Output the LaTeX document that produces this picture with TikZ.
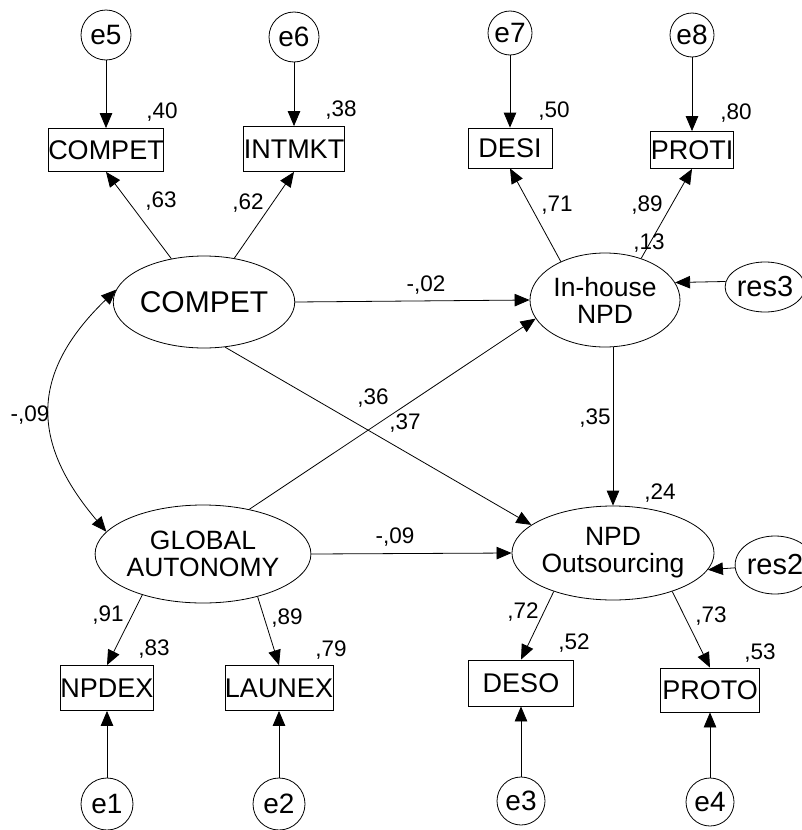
\documentclass[tikz,border=0pt]{standalone}
\usepackage{fontspec}
\setmainfont{Liberation Sans}
\usetikzlibrary{shapes.geometric, arrows.meta}
\tikzstyle{semCanvas} = [x = 1pt, y = -1pt]
\tikzstyle{pathStyle} = [-{Triangle[length=15pt, width=12.5pt]}, line width=.8pt]
\tikzstyle{covStyle} = [{Triangle[length=15pt, width=12.5pt]}-{Triangle[length=15pt, width=12.5pt]}, line width=.8pt]
\tikzstyle{latentStyle} = [draw, ellipse, line width=.8pt, inner sep=0pt, align=center, font=\fontsize{26.5}{27}\selectfont]
\tikzstyle{observedStyle} = [draw, rectangle, line width=.8pt, inner sep=0pt, font=\fontsize{27}{28}\selectfont]
\tikzstyle{errorStyle} = [draw, circle, line width=.8pt, inner sep=0pt, font=\fontsize{28}{29}\selectfont]
\tikzstyle{weightText} = [inner sep=0pt, font=\fontsize{22.5}{24}\selectfont]
\newcommand{\observed}[6]{\node [observedStyle, minimum width=#4pt, minimum height=#5pt] (#1) at (#2, #3) {#6};}
\newcommand{\errorTerm}[4]{\node [errorStyle, minimum size=#4pt] (#1) at (#2, #3) {#1};}
\newcommand{\weight}[4]{\node [weightText] (#1) at (#2, #3) {#4};}

\begin{document}
\begin{tikzpicture}[semCanvas]
  \useasboundingbox (0, 0) rectangle (802, 830);

  % latent variables
  \node [latentStyle, minimum width=154pt, minimum height=92pt, font=\fontsize{30}{31}\selectfont] (compet) at (204, 302) {COMPET};
  \node [latentStyle, minimum width=150pt, minimum height=94pt] (inHouse) at (605, 300) {In-house\\NPD};
  \node [latentStyle, minimum width=166pt, minimum height=98pt] (global) at (203, 554) {GLOBAL\\AUTONOMY};
  \node [latentStyle, minimum width=156pt, minimum height=94pt] (outsrc) at (613, 553) {NPD\\Outsourcing};
  \node [latentStyle, minimum width=64pt, minimum height=50pt, font=\fontsize{29}{30}\selectfont] (res3) at (765, 287) {res3};
  \node [latentStyle, minimum width=60pt, minimum height=58pt, font=\fontsize{29}{30}\selectfont] (res2) at (775, 565) {res2};

  % indicators
  \observed{competX}{106}{150}{113}{43}{COMPET}
  \observed{intmkt}{294}{149}{90}{45}{INTMKT}
  \observed{desi}{510}{148}{84}{40}{DESI}
  \observed{proti}{692}{150}{80}{37}{PROTI}
  \observed{npdex}{107}{688}{88}{45}{NPDEX}
  \observed{launex}{279}{688}{108}{45}{LAUNEX}
  \observed{deso}{521}{683}{105}{46}{DESO}
  \observed{proto}{710}{690}{99}{44}{PROTO}

  % error terms
  \errorTerm{e5}{106}{35}{50}
  \errorTerm{e6}{294}{37}{50}
  \errorTerm{e7}{510}{33}{44}
  \errorTerm{e8}{692}{35}{44}
  \errorTerm{e1}{107}{804}{52}
  \errorTerm{e2}{279}{804}{52}
  \errorTerm{e3}{521}{801}{48}
  \errorTerm{e4}{710}{802}{48}

  % paths
  \draw [pathStyle] (e5) -- (competX);
  \draw [pathStyle] (e6) -- (intmkt);
  \draw [pathStyle] (e7) -- (desi);
  \draw [pathStyle] (e8) -- (proti);
  \draw [pathStyle] (e1) -- (npdex);
  \draw [pathStyle] (e2) -- (launex);
  \draw [pathStyle] (e3) -- (deso);
  \draw [pathStyle] (e4) -- (proto);
  \draw [pathStyle] (compet) -- (competX.south);
  \draw [pathStyle] (compet) -- (intmkt.south);
  \draw [pathStyle] (inHouse.139) -- (desi.south);
  \draw [pathStyle] (inHouse.49) -- (proti.south);
  \draw [pathStyle] (global.214) -- (npdex.north);
  \draw [pathStyle] (global.322) -- (launex.north);
  \draw [pathStyle] (outsrc.213) -- (deso.north);
  \draw [pathStyle] (outsrc.327) -- (proto.north);
  \draw [pathStyle] (compet.east) -- (inHouse.west);
  \draw [pathStyle] (compet.295) -- (outsrc.161);
  \draw [pathStyle] (global.44) -- (inHouse.195);
  \draw [pathStyle] (global.east) -- (outsrc.west);
  \draw [pathStyle] (inHouse.south -| outsrc.north) -- (outsrc.north);
  \draw [pathStyle] (res3.172) -- (inHouse.14);
  \draw [pathStyle] (res2) -- (outsrc.350);
  \draw [covStyle] (compet.172) .. controls (28, 375) and (32, 444) .. (global.167);

  % estimates
  \weight{r2CompetX}{162}{112}{,40}
  \weight{r2Intmkt}{341}{110}{,38}
  \weight{r2Desi}{554}{111}{,50}
  \weight{r2Proti}{736}{113}{,80}
  \weight{wCompetX}{161}{201}{,63}
  \weight{wIntmkt}{248}{203}{,62}
  \weight{wDesi}{557}{205}{,71}
  \weight{wProti}{647}{205}{,89}
  \weight{r2InHouse}{649}{243}{,13}
  \weight{wCompetIn}{426}{285}{-,02}
  \weight{wCov}{30}{415}{-,09}
  \weight{wGlobalIn}{373}{398}{,36}
  \weight{wCompetOut}{405}{423}{,37}
  \weight{wInOut}{595}{418}{,35}
  \weight{r2Outsrc}{660}{493}{,24}
  \weight{wGlobalOut}{395}{537}{-,09}
  \weight{wNpdex}{108}{615}{,91}
  \weight{r2Npdex}{154}{649}{,83}
  \weight{wLaunex}{287}{618}{,89}
  \weight{r2Launex}{331}{650}{,79}
  \weight{wDeso}{523}{612}{,72}
  \weight{r2Deso}{574}{643}{,52}
  \weight{wProto}{711}{616}{,73}
  \weight{r2Proto}{760}{653}{,53}
\end{tikzpicture}
\end{document}
